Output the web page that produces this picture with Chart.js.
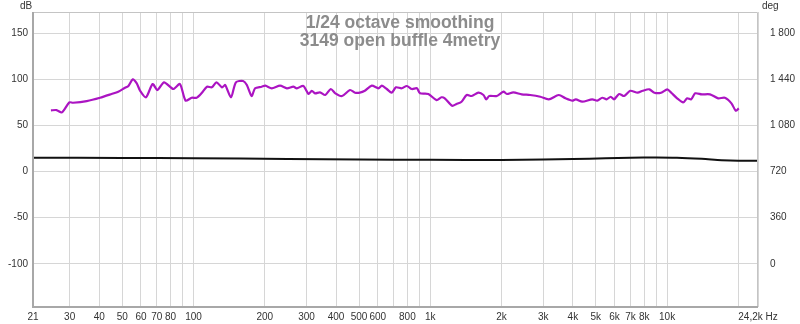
<!DOCTYPE html>
<html>
<head>
<meta charset="utf-8">
<script src="https://cdn.jsdelivr.net/npm/chart.js@4"></script>
<style>
  html, body { margin: 0; padding: 0; background: #fff; }
  #wrap { width: 800px; height: 324px; }
</style>
</head>
<body>
<div id="wrap"><canvas id="chart" width="800" height="324"></canvas></div>
<script>
// titles
const titleLines = ['1/24 octave smoothing', '3149 open buffle 4metry'];

// magenta trace (dB)
const splFreq = [25, 26.4, 27.8, 29.9, 31, 35.4, 40.3, 45.1, 48.1, 51.4, 53.1, 55.4, 57.6, 59.5, 63, 67.2, 70.4, 75.1,
  82.2, 87.6, 92.6, 98.2, 103, 108, 114, 119.5, 125, 132, 136, 144, 151, 162, 168, 176, 182, 194, 201, 214, 232, 248, 264,
  273, 291, 306, 316, 326, 342, 360, 380, 397, 424, 458, 481, 504, 529, 566, 604, 624, 655, 687, 716, 757, 796, 836, 878,
  905, 981, 1063, 1115, 1151, 1236, 1290, 1355, 1424, 1495, 1596, 1677, 1722, 1774, 1909, 2037, 2105, 2241, 2432, 2640,
  2915, 3163, 3488, 3724, 3980, 4115, 4381, 4830, 5069, 5327, 5557, 5777, 5970, 6271, 6586, 6983, 7503, 7886, 8413, 8837,
  9436, 10015, 10412, 11023, 11689, 12151, 12630, 13138, 14011, 15172, 16428, 17527, 18694, 19496, 20076];
const splDb = [66.7, 67, 64.5, 75.4, 75, 76.8, 80.4, 84.5, 87, 91.3, 93.2, 100.4, 96, 88, 80.9, 95.3, 88.8, 97.2,
  89.9, 95.3, 77.2, 80.4, 80.4, 85.2, 92.4, 91.7, 97.2, 91.7, 94.2, 80.9, 97.2, 98.6, 94.2, 82.3, 90.7, 92.4, 93.5, 90.7, 93.5, 90.7, 92.4,
  90.7, 93.2, 84.5, 88, 85.2, 86.3, 83.4, 89.9, 85.2, 82.3, 88.8, 85.9, 85.9, 88, 93.5, 90.7, 93.5, 89.9, 85.9, 91.7, 90.7, 93.2, 89.9, 90.7,
  85.2, 84.5, 77.9, 80.9, 79.8, 71.7, 73.6, 76.1, 83.4, 82.3, 85.9, 83.4, 78.7, 82.3, 82.3, 87, 84.5, 86.3, 84.1, 83.4,
  81.5, 78.7, 83.4, 79.8, 77.2, 78.7, 76.1, 78.7, 77.2, 80.4, 78.7, 81.5, 78.7, 84.5, 82.3, 88, 85.9, 88, 89.6, 85.9,
  85.9, 89.6, 85.9, 79.8, 75.4, 79.8, 78.7, 85.2, 84.1, 84.1, 79.8, 80.4, 74.3, 66.3, 68.9];

// black trace (dB)
const blkFreq = [21, 50, 100, 250, 500, 1000, 2000, 3000, 4000, 5500, 7000, 9000, 11000, 14000, 17000, 20000, 24200];
const blkDb = [15.2, 15.0, 14.6, 13.9, 13.4, 12.9, 12.8, 13.2, 13.8, 14.6, 15.3, 15.5, 15.2, 14.0, 12.6, 12.0, 12.0];

// axes
const xMin = 21, xMax = 24200;
const xTicks = [21, 30, 40, 50, 60, 70, 80, 90, 100, 200, 300, 400, 500, 600, 700, 800, 900, 1000,
  2000, 3000, 4000, 5000, 6000, 7000, 8000, 9000, 10000, 20000, 24200];
const xLabels = {21: '21', 30: '30', 40: '40', 50: '50', 60: '60', 70: '70', 80: '80', 100: '100', 200: '200', 300: '300',
  400: '400', 500: '500', 600: '600', 800: '800', 1000: '1k', 2000: '2k', 3000: '3k', 4000: '4k', 5000: '5k', 6000: '6k',
  7000: '7k', 8000: '8k', 10000: '10k', 24200: '24,2k Hz'};
const dbTicks = [-100, -50, 0, 50, 100, 150];
const degTicks = [0, 360, 720, 1080, 1440, 1800];
const dbMin = -147, dbMax = 173.6;

const toXY = (xs, ys) => xs.map((x, i) => ({ x, y: ys[i] }));
const degOf = db => 720 + db * 7.2;
const fmtDeg = v => v >= 1000 ? String(v).replace(/(\d)(\d{3})$/, '$1 $2') : String(v);

const tickFont = { family: 'Liberation Sans, Arial, sans-serif', size: 10 };

const overlay = {
  id: 'overlay',
  afterDraw(chart) {
    const { ctx, chartArea: a } = chart;
    ctx.save();
    // frame
    ctx.strokeStyle = '#c4c4c4';
    ctx.lineWidth = 1;
    ctx.beginPath();
    ctx.moveTo(a.left, a.top + 0.5); ctx.lineTo(a.right - 0.5, a.top + 0.5); ctx.lineTo(a.right - 0.5, a.bottom);
    ctx.stroke();
    ctx.strokeStyle = '#a8a8a8';
    ctx.lineWidth = 2;
    ctx.beginPath();
    ctx.moveTo(a.left, a.top); ctx.lineTo(a.left, a.bottom); ctx.lineTo(a.right, a.bottom);
    ctx.stroke();
    // titles
    ctx.fillStyle = '#8c8c8c';
    ctx.font = 'bold 17.5px Liberation Sans, Arial, sans-serif';
    ctx.textAlign = 'center';
    ctx.textBaseline = 'alphabetic';
    ctx.fillText(titleLines[0], 400, 28);
    ctx.fillText(titleLines[1], 400, 46);
    // axis units
    ctx.fillStyle = '#333';
    ctx.font = '10px Liberation Sans, Arial, sans-serif';
    ctx.textAlign = 'left';
    ctx.fillText('dB', 20, 9);
    ctx.fillText('deg', 762, 9);
    ctx.restore();
  }
};

new Chart(document.getElementById('chart'), {
  type: 'line',
  data: {
    datasets: [
      { data: toXY(blkFreq, blkDb), borderColor: '#111', borderWidth: 2, pointRadius: 0, tension: 0.3, yAxisID: 'y' },
      { data: toXY(splFreq, splDb), borderColor: '#ab14c2', borderWidth: 2.2, pointRadius: 0, tension: 0.25, yAxisID: 'y' }
    ]
  },
  options: {
    responsive: false,
    animation: false,
    layout: { padding: { top: 12, left: 0, right: 0, bottom: 0 } },
    plugins: { legend: { display: false }, tooltip: { enabled: false } },
    scales: {
      x: {
        type: 'logarithmic', min: xMin, max: xMax,
        afterBuildTicks: s => { s.ticks = xTicks.map(v => ({ value: v })); },
        afterFit: s => { s.height = 17; },
        grid: { color: '#d6d6d6', drawTicks: false },
        border: { display: false },
        ticks: {
          autoSkip: false, maxRotation: 0, padding: 4, color: '#333', font: tickFont,
          callback: v => xLabels[v] || ''
        }
      },
      y: {
        position: 'left', min: dbMin, max: dbMax,
        afterBuildTicks: s => { s.ticks = dbTicks.map(v => ({ value: v })); },
        afterFit: s => { s.width = 33; },
        grid: { color: '#d6d6d6', drawTicks: false },
        border: { display: false },
        ticks: { padding: 5, color: '#333', font: tickFont }
      },
      y2: {
        position: 'right', min: degOf(dbMin), max: degOf(dbMax),
        afterBuildTicks: s => { s.ticks = degTicks.map(v => ({ value: v })); },
        afterFit: s => { s.width = 42; },
        grid: { display: false },
        border: { display: false },
        ticks: { padding: 4, color: '#333', font: tickFont, callback: v => fmtDeg(v) }
      }
    }
  },
  plugins: [overlay]
});
</script>
</body>
</html>
